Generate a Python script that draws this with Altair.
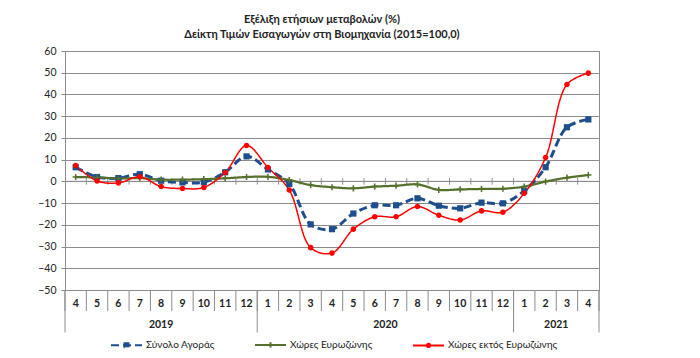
import altair as alt
import pandas as pd

# ---- data ----
months = [4, 5, 6, 7, 8, 9, 10, 11, 12, 1, 2, 3, 4, 5, 6, 7, 8, 9, 10, 11, 12, 1, 2, 3, 4]
years = ["2019"] * 9 + ["2020"] * 12 + ["2021"] * 4
series_names = ["Σύνολο Αγοράς", "Χώρες Ευρωζώνης", "Χώρες εκτός Ευρωζώνης"]
total = [6.5, 2.0, 1.5, 3.3, 0.3, -0.5, -0.4, 4.2, 11.5, 5.5, -1.2, -19.8, -22.0, -14.8,
         -11.0, -11.0, -7.8, -11.2, -12.4, -9.8, -10.1, -4.3, 6.5, 24.9, 28.5]
euro = [2.0, 1.8, 1.3, 1.5, 0.8, 0.8, 1.0, 1.4, 2.0, 2.1, 0.6, -1.7, -2.7, -3.2,
        -2.4, -2.0, -1.4, -3.9, -3.7, -3.5, -3.4, -2.4, -0.1, 1.7, 2.9]
non_euro = [7.3, 0.2, -0.7, 2.1, -2.4, -3.3, -2.8, 4.1, 16.5, 6.4, -4.0, -30.5, -33.0, -22.0,
            -16.3, -16.3, -11.6, -15.6, -17.8, -13.6, -14.2, -5.5, 11.0, 44.6, 49.8]
y_ticks = list(range(-50, 61, 10))
title_lines = ["Εξέλιξη ετήσιων μεταβολών (%)",
               "Δείκτη Τιμών Εισαγωγών στη Βιομηχανία (2015=100,0)"]

# ---- styles ----
colors = ["#1F4E8C", "#56712D", "#FF0000"]
dashes = [[8, 4], [1, 0], [1, 0]]
widths = [3, 2.25, 1.5]
marker_paths = [
    "M-0.2,-0.2H0.2V0.2H-0.2Z",
    "M-0.2,-0.05H-0.05V-0.2H0.05V-0.05H0.2V0.05H0.05V0.2H-0.05V0.05H-0.2Z",
    "M0.18,0A0.18,0.18 0 1,1 -0.18,0A0.18,0.18 0 1,1 0.18,0Z",
]
legend_paths = [
    "M-1,0H1M-0.13,-0.13H0.13V0.13H-0.13Z",
    "M-1,0H1M0,-0.17V0.17",
    "M-1,0H1M0.11,0A0.11,0.11 0 1,1 -0.11,0A0.11,0.11 0 1,1 0.11,0Z",
]
GRID = "#8C8C8C"
FONT = "Lato"
TXT = "#222222"

n = len(months)
rows = []
for i in range(n):
    for name, vals in zip(series_names, [total, euro, non_euro]):
        rows.append({"pos": i + 0.5, "value": vals[i], "series": name})
df = pd.DataFrame(rows)

month_df = pd.DataFrame({"pos": [i + 0.5 for i in range(n)],
                         "label": [str(m) for m in months],
                         "yy": [-56.3] * n})
year_bounds = [0]
year_labels = []
start = 0
for i in range(1, n + 1):
    if i == n or years[i] != years[start]:
        year_labels.append({"pos": (start + i) / 2, "label": years[start], "yy": -66.0})
        year_bounds.append(i)
        start = i
year_df = pd.DataFrame(year_labels)

tick_df = pd.DataFrame({"b": list(range(1, n)), "y1": [1.5] * (n - 1), "y2": [-1.5] * (n - 1)})
sep_df = pd.DataFrame({"b": list(range(0, n + 1)), "y1": [-50] * (n + 1), "y2": [-59.7] * (n + 1)})
ysep_df = pd.DataFrame({"b": year_bounds, "y1": [-50] * len(year_bounds),
                        "y2": [-69.5] * len(year_bounds)})
zero_df = pd.DataFrame({"x1": [0], "x2": [n], "y": [0]})

xscale = alt.Scale(domain=[0, n], nice=False, zero=False)
yscale = alt.Scale(domain=[-50, 60], nice=False, zero=False)
yaxis = alt.Axis(values=y_ticks, title=None, grid=True, gridColor=GRID, gridWidth=1,
                 domainColor=GRID, tickColor=GRID, tickSize=4, labelPadding=5,
                 labelFont=FONT, labelFontSize=10.5, labelColor=TXT)

def X(f):
    return alt.X(f, scale=xscale, axis=None)

def Y(f):
    return alt.Y(f, scale=yscale, axis=yaxis)

zero_rule = alt.Chart(zero_df).mark_rule(color=GRID, strokeWidth=1).encode(
    x=X("x1:Q"), x2="x2:Q", y=Y("y:Q"))
ticks = alt.Chart(tick_df).mark_rule(color=GRID, strokeWidth=1).encode(
    x=X("b:Q"), y=Y("y1:Q"), y2="y2:Q")
seps = alt.Chart(sep_df).mark_rule(color=GRID, strokeWidth=1).encode(
    x=X("b:Q"), y=Y("y1:Q"), y2="y2:Q")
yseps = alt.Chart(ysep_df).mark_rule(color=GRID, strokeWidth=1).encode(
    x=X("b:Q"), y=Y("y1:Q"), y2="y2:Q")
month_text = alt.Chart(month_df).mark_text(font=FONT, fontSize=10.5, fontWeight="bold",
                                           color=TXT, baseline="middle").encode(
    x=X("pos:Q"), y=Y("yy:Q"), text="label:N")
year_text = alt.Chart(year_df).mark_text(font=FONT, fontSize=10.5, fontWeight="bold",
                                         color=TXT, baseline="middle").encode(
    x=X("pos:Q"), y=Y("yy:Q"), text="label:N")

series_layers = []
for k, name in enumerate(series_names):
    base = alt.Chart(df).transform_filter(alt.datum.series == name)
    series_layers.append(
        base.mark_line(interpolate="catmull-rom", strokeWidth=widths[k], color=colors[k],
                       strokeDash=dashes[k])
        .encode(x=X("pos:Q"), y=Y("value:Q"))
    )
for k, name in enumerate(series_names):
    base = alt.Chart(df).transform_filter(alt.datum.series == name)
    series_layers.append(
        base.mark_point(filled=True, size=961, opacity=1, shape=marker_paths[k],
                        color=colors[k])
        .encode(x=X("pos:Q"), y=Y("value:Q"))
    )

LX, LY = 45, 277
leg = alt.Legend(title=None, orient="none", legendX=LX, legendY=LY, direction="horizontal",
                 symbolSize=961, symbolStrokeWidth=2, labelFont=FONT, labelFontSize=10,
                 columnPadding=36, labelOffset=3, padding=0, labelColor=TXT)

legend_layer = alt.Chart(df).transform_filter("false").mark_point(
    filled=True, size=961, strokeWidth=2, opacity=1).encode(
    x=X("pos:Q"), y=Y("value:Q"),
    color=alt.Color("series:N", sort=series_names,
                    scale=alt.Scale(domain=series_names, range=colors), legend=leg),
    stroke=alt.Stroke("series:N", sort=series_names,
                      scale=alt.Scale(domain=series_names, range=colors), legend=leg),
    shape=alt.Shape("series:N", sort=series_names,
                    scale=alt.Scale(domain=series_names, range=legend_paths), legend=leg),
    strokeDash=alt.StrokeDash("series:N", sort=series_names,
                              scale=alt.Scale(domain=series_names, range=dashes), legend=leg),
)

chart = alt.layer(zero_rule, ticks, seps, yseps, month_text, year_text, *series_layers,
                  legend_layer).properties(
    width=534, height=239,
    padding={"left": 57, "top": 43, "right": 93, "bottom": 60},
    autosize=alt.AutoSizeParams(type="none"),
    title=alt.TitleParams(text=title_lines, font=FONT, fontSize=11, fontWeight="bold",
                          color=TXT, anchor="middle", frame="group", dx=-10, offset=6,
                          lineHeight=15),
).configure_view(stroke=GRID, strokeWidth=1)

chart.save("out.html", embed_options={"renderer": "svg", "actions": False})
